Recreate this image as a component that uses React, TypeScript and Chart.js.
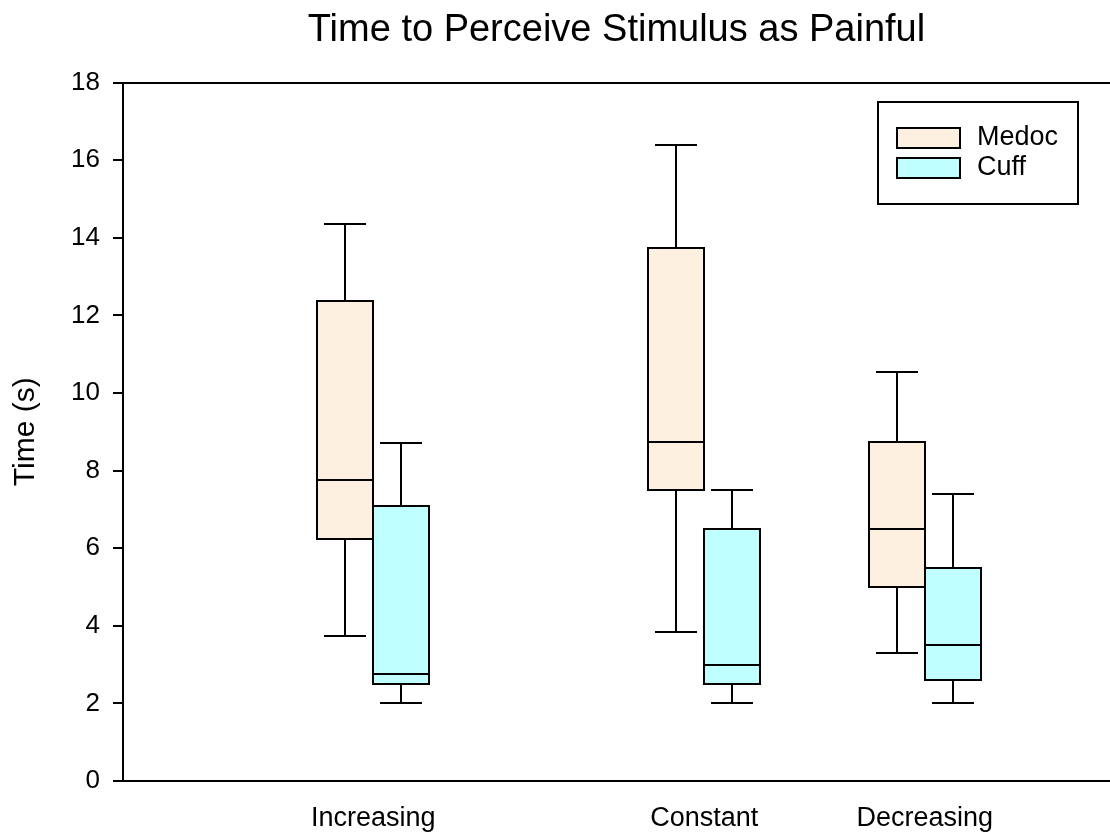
import React, { useEffect, useRef } from "react";
import { Chart, registerables } from "chart.js";

Chart.register(...registerables);

// ---- data ----
const categories = ["Increasing", "Constant", "Decreasing"];
const categoryPositions = [1, 2.5, 3.5];
const seriesNames = ["Medoc", "Cuff"];

const medocMin = [3.75, 3.85, 3.3];
const medocQ1 = [6.25, 7.5, 5.0];
const medocMedian = [7.75, 8.75, 6.5];
const medocQ3 = [12.375, 13.75, 8.75];
const medocMax = [14.35, 16.4, 10.55];

const cuffMin = [2, 2, 2];
const cuffQ1 = [2.5, 2.5, 2.6];
const cuffMedian = [2.75, 3, 3.5];
const cuffQ3 = [7.1, 6.5, 5.5];
const cuffMax = [8.7, 7.5, 7.4];

const yMin = 0;
const yMax = 18;
const yStep = 2;

const titleText = "Time to Perceive Stimulus as Painful";
const yTitle = "Time (s)";

// ---- styles ----
const FONT = "'Liberation Sans', Arial, Helvetica, sans-serif";
const medocColor = "rgb(253,240,225)";
const cuffColor = "rgb(191,255,255)";

const seriesStats = [
  { min: medocMin, q1: medocQ1, median: medocMedian, q3: medocQ3, max: medocMax },
  { min: cuffMin, q1: cuffQ1, median: cuffMedian, q3: cuffQ3, max: cuffMax },
];

const boxPlugin = {
  id: "boxWhiskers",
  afterDatasetsDraw(chart: any) {
    const ctx = chart.ctx;
    const ys = chart.scales.y;
    ctx.save();
    ctx.strokeStyle = "#000";
    ctx.lineWidth = 2;
    ctx.lineCap = "butt";
    chart.data.datasets.forEach((_ds: any, di: number) => {
      const meta = chart.getDatasetMeta(di);
      const st = seriesStats[di];
      meta.data.forEach((bar: any, i: number) => {
        const p = bar.getProps(["x", "y", "base", "width"], true);
        const left = Math.round(p.x - p.width / 2);
        const right = Math.round(p.x + p.width / 2);
        const cx = Math.round(p.x);
        const top = Math.round(p.y);
        const base = Math.round(p.base);
        const yMed = Math.round(ys.getPixelForValue(st.median[i]));
        const yHi = Math.round(ys.getPixelForValue(st.max[i]));
        const yLo = Math.round(ys.getPixelForValue(st.min[i]));
        const cap = (right - left) * 0.375;
        ctx.beginPath();
        ctx.rect(left, top, right - left, base - top);
        ctx.moveTo(left, yMed);
        ctx.lineTo(right, yMed);
        ctx.moveTo(cx, top);
        ctx.lineTo(cx, yHi);
        ctx.moveTo(cx - cap, yHi);
        ctx.lineTo(cx + cap, yHi);
        ctx.moveTo(cx, base);
        ctx.lineTo(cx, yLo);
        ctx.moveTo(cx - cap, yLo);
        ctx.lineTo(cx + cap, yLo);
        ctx.stroke();
      });
    });
    ctx.restore();
  },
};

const framePlugin = {
  id: "frameTop",
  afterDraw(chart: any) {
    const { ctx, chartArea } = chart;
    ctx.save();
    ctx.strokeStyle = "#000";
    ctx.lineWidth = 2;
    ctx.beginPath();
    ctx.moveTo(chartArea.left, Math.round(chartArea.top));
    ctx.lineTo(chartArea.right, Math.round(chartArea.top));
    ctx.stroke();
    ctx.restore();
  },
};

const legendPlugin = {
  id: "boxedLegend",
  afterDraw(chart: any) {
    const { ctx, chartArea } = chart;
    const w = 200;
    const h = 102;
    const bx = Math.round(chartArea.right - 32 - w);
    const by = Math.round(chartArea.top + 19);
    ctx.save();
    ctx.fillStyle = "#fff";
    ctx.fillRect(bx, by, w, h);
    ctx.strokeStyle = "#000";
    ctx.lineWidth = 2;
    ctx.strokeRect(bx, by, w, h);
    ctx.font = `27px ${FONT}`;
    ctx.textBaseline = "middle";
    ctx.textAlign = "left";
    chart.data.datasets.forEach((ds: any, i: number) => {
      const sy = by + 26 + i * 30;
      ctx.fillStyle = ds.backgroundColor;
      ctx.fillRect(bx + 19, sy, 63, 20);
      ctx.strokeRect(bx + 19, sy, 63, 20);
      ctx.fillStyle = "#000";
      ctx.fillText(ds.label, bx + 99, sy + 10);
    });
    ctx.restore();
  },
};

export default function App() {
  const canvasRef = useRef<HTMLCanvasElement | null>(null);

  useEffect(() => {
    if (!canvasRef.current) return;
    const colors = [medocColor, cuffColor];
    const datasets = seriesNames.map((name, si) => ({
      label: name,
      data: categoryPositions.map((pos, i) => ({
        x: pos,
        y: [seriesStats[si].q1[i], seriesStats[si].q3[i]],
      })),
      backgroundColor: colors[si],
      borderWidth: 0,
      barThickness: 56,
      inflateAmount: 0,
    }));

    const chart = new Chart(canvasRef.current, {
      type: "bar",
      data: { datasets } as any,
      plugins: [boxPlugin, framePlugin, legendPlugin],
      options: {
        responsive: false,
        animation: false,
        devicePixelRatio: 1,
        layout: { padding: 0 },
        plugins: {
          legend: { display: false },
          tooltip: { enabled: false },
          title: {
            display: true,
            text: titleText,
            fullSize: false,
            color: "#000",
            font: { family: FONT, size: 38, weight: "normal" },
            padding: { top: 8, bottom: 29 },
          },
        },
        scales: {
          x: {
            type: "linear",
            min: -0.135,
            max: 4.34,
            offset: false,
            grid: { display: false, drawTicks: false },
            border: { display: true, color: "#000", width: 2 },
            afterBuildTicks: (scale: any) => {
              scale.ticks = categoryPositions.map((v) => ({ value: v }));
            },
            afterFit: (scale: any) => {
              scale.height = 52;
            },
            ticks: {
              autoSkip: false,
              maxRotation: 0,
              padding: 21,
              color: "#000",
              font: { family: FONT, size: 27 },
              callback: (_v: any, index: number) => categories[index],
            },
          },
          y: {
            type: "linear",
            min: yMin,
            max: yMax,
            grid: {
              drawOnChartArea: false,
              drawTicks: true,
              tickLength: 10,
              color: "#000",
              lineWidth: 2,
            },
            border: { display: true, color: "#000", width: 2 },
            afterFit: (scale: any) => {
              scale.width = 123;
            },
            ticks: {
              stepSize: yStep,
              padding: 13,
              color: "#000",
              font: { family: FONT, size: 26 },
            },
            title: {
              display: true,
              text: yTitle,
              color: "#000",
              font: { family: FONT, size: 30 },
              padding: { top: 8, bottom: 0 },
            },
          },
        },
      } as any,
    });
    return () => chart.destroy();
  }, []);

  return (
    <div style={{ position: "fixed", left: 0, top: 0, width: 1110, height: 833, background: "#fff" }}>
      <canvas ref={canvasRef} width={1110} height={833} style={{ display: "block" }} />
    </div>
  );
}
